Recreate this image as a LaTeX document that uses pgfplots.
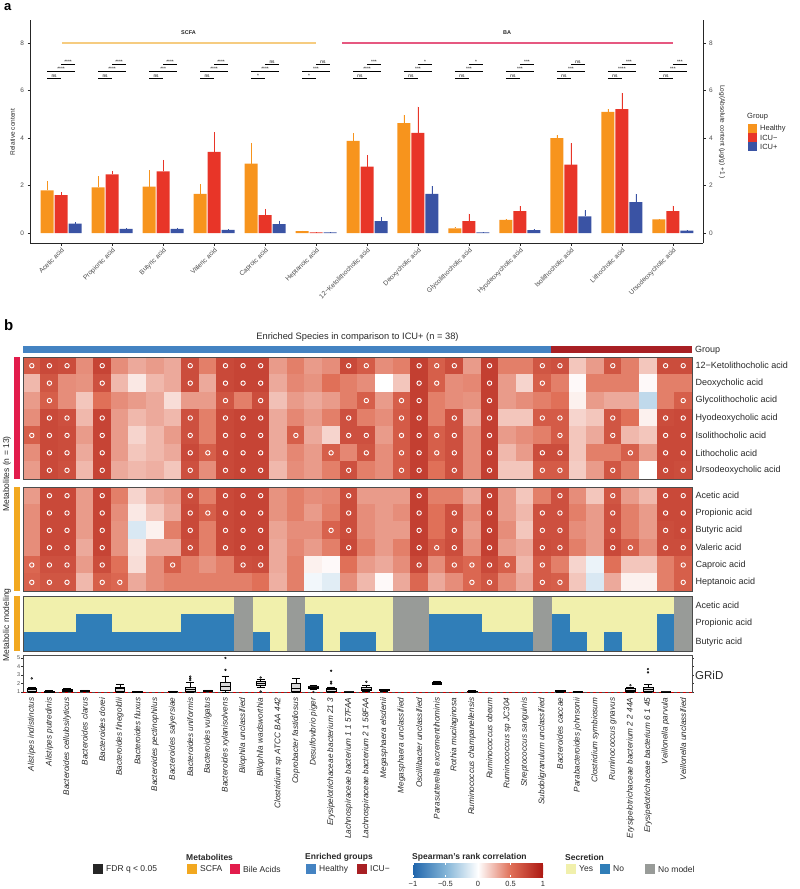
\documentclass[border=0pt]{standalone}
\usepackage{pgfplots}
\pgfplotsset{compat=1.18}
\usepackage{pgfplotstable}
\usepgfplotslibrary{statistics}
\usepackage{fontspec}
\setmainfont{Liberation Sans}

\definecolor{cHealthy}{RGB}{247,148,29}
\definecolor{cIcuN}{RGB}{232,53,40}
\definecolor{cIcuP}{RGB}{58,83,164}
\definecolor{cScfaLine}{RGB}{246,204,128}
\definecolor{cBaLine}{RGB}{230,88,128}
\definecolor{grpH}{RGB}{68,131,194}
\definecolor{grpI}{RGB}{168,32,36}
\definecolor{annScfa}{RGB}{242,168,32}
\definecolor{annBa}{RGB}{226,28,76}
\definecolor{secYes}{RGB}{241,240,172}
\definecolor{secNo}{RGB}{48,126,184}
\definecolor{secNA}{RGB}{152,155,152}
\definecolor{txt}{RGB}{40,40,40}
\definecolor{tk}{RGB}{77,77,77}

\newcommand{\fs}[1]{\fontsize{#1}{#1}\selectfont}

\pgfplotsset{colormap={spear}{rgb255=(33,102,172) rgb255=(130,180,215) rgb255=(255,255,255) rgb255=(224,112,88) rgb255=(172,24,18)}}
\pgfdeclarehorizontalshading{spearbar}{100bp}{rgb(0bp)=(0.129,0.4,0.675); rgb(25bp)=(0.129,0.4,0.675); rgb(37.5bp)=(0.51,0.706,0.843); rgb(50bp)=(1,1,1); rgb(62.5bp)=(0.878,0.439,0.345); rgb(75bp)=(0.675,0.094,0.071); rgb(100bp)=(0.675,0.094,0.071)}

% significance brackets of one metabolite: ns / mid / top labels
\newcommand{\sigbr}[4]{%
  \draw[line width=0.35pt] ([xshift=-14pt]axis cs:#1,6.53) -- node[above, font=\fs{4.8}, inner sep=0.6pt] {#2} (axis cs:#1,6.53);
  \draw[line width=0.35pt] ([xshift=-14pt]axis cs:#1,6.82) -- node[above, font=\fs{4.8}, inner sep=0.6pt] {#3} ([xshift=14pt]axis cs:#1,6.82);
  \draw[line width=0.35pt] (axis cs:#1,7.12) -- node[above, font=\fs{4.8}, inner sep=0.6pt] {#4} ([xshift=14pt]axis cs:#1,7.12);}

\newcommand{\gbox}[6]{\addplot[boxplot prepared={draw position=#1, lower whisker=#2, lower quartile=#3, median=#4, upper quartile=#5, upper whisker=#6, box extend=0.55, whisker extend=0.45}, draw=black, fill=gray!30, line width=0.45pt, mark=*, mark size=0.9pt, mark options={fill=gray!40, draw=black}]}

% bar heights and upper error of panel a
\pgfplotstableread{
x  h    herr n    nerr p    perr
0  1.80 0.40 1.60 0.12 0.40 0.07
1  1.92 0.48 2.47 0.15 0.17 0.03
2  1.95 0.70 2.60 0.48 0.17 0.05
3  1.65 0.40 3.42 0.83 0.13 0.03
4  2.92 0.88 0.75 0.27 0.37 0.15
5  0.08 0.02 0.03 0.01 0.03 0.01
6  3.88 0.32 2.80 0.48 0.50 0.18
7  4.63 0.34 4.22 1.10 1.65 0.33
8  0.20 0.05 0.50 0.32 0.03 0.01
9  0.55 0.05 0.92 0.21 0.12 0.03
10 4.00 0.12 2.88 0.90 0.70 0.25
11 5.10 0.12 5.22 0.68 1.30 0.35
12 0.57 0.03 0.92 0.23 0.10 0.03
}\acids

% Spearman correlations, species x metabolite
\pgfplotstableread{
x  k    de   gl   hy   is   li   ur   ac   pr   bu    va   ca    he
1  0.62 0.25 0.35 0.40 0.60 0.40 0.35 0.35 0.40 0.40  0.40 0.55  0.58
2  0.72 0.65 0.60 0.72 0.72 0.72 0.72 0.72 0.72 0.72  0.72 0.68  0.65
3  0.70 0.40 0.40 0.68 0.70 0.70 0.68 0.72 0.72 0.72  0.72 0.68  0.65
4  0.40 0.38 0.20 0.25 0.35 0.30 0.25 0.35 0.35 0.35  0.30 0.35  0.25
5  0.75 0.68 0.50 0.75 0.75 0.75 0.75 0.75 0.75 0.75  0.75 0.70  0.60
6  0.40 0.25 0.40 0.35 0.35 0.35 0.30 0.45 0.40 0.38  0.38 0.50  0.55
7  0.30 0.08 0.35 0.25 0.15 0.20 0.25 0.15 0.08 -0.15 0.10 0.12  0.30
8  0.35 0.25 0.30 0.30 0.25 0.25 0.28 0.30 0.20 0.05  0.30 0.40  0.40
9  0.30 0.30 0.12 0.25 0.35 0.30 0.20 0.35 0.30 0.45  0.30 0.60  0.45
10 0.70 0.70 0.35 0.68 0.68 0.72 0.68 0.70 0.72 0.72  0.70 0.45  0.45
11 0.45 0.30 0.35 0.45 0.45 0.60 0.40 0.45 0.60 0.45  0.45 0.38  0.45
12 0.72 0.72 0.65 0.72 0.72 0.72 0.72 0.72 0.72 0.72  0.72 0.45  0.45
13 0.75 0.75 0.45 0.75 0.75 0.75 0.75 0.75 0.75 0.75  0.75 0.68  0.45
14 0.75 0.75 0.70 0.75 0.75 0.75 0.75 0.75 0.75 0.75  0.75 0.70  0.50
15 0.35 0.30 0.22 0.30 0.30 0.30 0.25 0.38 0.38 0.32  0.30 0.30  0.28
16 0.45 0.42 0.35 0.42 0.60 0.42 0.40 0.45 0.45 0.40  0.42 0.45  0.45
17 0.35 0.38 0.30 0.35 0.30 0.35 0.35 0.40 0.35 0.40  0.35 0.05  -0.05
18 0.40 0.50 0.35 0.45 0.15 0.60 0.45 0.42 0.45 0.58  0.45 0.02  -0.12
19 0.72 0.45 0.45 0.68 0.68 0.42 0.68 0.70 0.70 0.70  0.72 0.50  0.40
20 0.62 0.40 0.60 0.45 0.68 0.65 0.45 0.35 0.40 0.40  0.45 0.35  0.25
21 0.40 0.00 0.35 0.40 0.35 0.40 0.40 0.35 0.35 0.35  0.35 0.30  0.02
22 0.45 0.20 0.60 0.62 0.62 0.62 0.62 0.35 0.40 0.35  0.45 0.40  0.30
23 0.78 0.78 0.78 0.78 0.78 0.78 0.78 0.78 0.78 0.78  0.78 0.72  0.55
24 0.60 0.60 0.45 0.45 0.60 0.60 0.50 0.45 0.50 0.50  0.62 0.40  0.30
25 0.70 0.40 0.40 0.68 0.68 0.68 0.68 0.45 0.68 0.68  0.70 0.62  0.40
26 0.35 0.42 0.38 0.30 0.40 0.40 0.40 0.30 0.40 0.35  0.40 0.55  0.55
27 0.78 0.78 0.78 0.78 0.78 0.78 0.78 0.78 0.78 0.78  0.78 0.72  0.65
28 0.45 0.35 0.35 0.20 0.35 0.25 0.20 0.35 0.35 0.40  0.35 0.60  0.42
29 0.45 0.15 0.40 0.20 0.40 0.35 0.20 0.20 0.25 0.20  0.30 0.25  0.30
30 0.65 0.60 0.45 0.62 0.45 0.70 0.62 0.45 0.68 0.68  0.70 0.62  0.62
31 0.68 0.45 0.50 0.62 0.62 0.70 0.62 0.68 0.68 0.68  0.68 0.45  0.60
32 0.20 0.02 0.05 0.15 0.20 0.20 0.18 0.40 0.45 0.40  0.45 0.15  0.20
33 0.35 0.45 0.35 0.20 0.30 0.45 0.35 0.20 0.35 0.35  0.35 -0.08 -0.15
34 0.65 0.45 0.30 0.65 0.65 0.45 0.65 0.65 0.68 0.68  0.72 0.50  0.30
35 0.45 0.45 0.30 0.50 0.25 0.60 0.45 0.35 0.45 0.45  0.60 0.20  0.05
36 0.20 0.02 -0.25 0.05 0.20 0.35 0.00 0.25 0.35 0.35 0.40 0.20  0.05
37 0.70 0.45 0.45 0.70 0.72 0.72 0.72 0.72 0.72 0.70  0.70 0.45  0.45
38 0.70 0.45 0.60 0.72 0.72 0.72 0.70 0.72 0.72 0.72  0.70 0.60  0.60
}\heat

\pgfplotsset{
  hmbase/.style={scale only axis, width=669pt, xmin=0.5, xmax=38.5, y dir=reverse,
    xtick=\empty, ytick pos=right, major tick length=0pt,
    yticklabel style={font=\fs{9}, text=txt},
    axis line style={draw=black!70, line width=0.7pt}, axis on top,
    clip marker paths=true, colormap name=spear, point meta min=-1, point meta max=1},
  cell/.style={scatter, only marks, mark=square*, mark size=8.8pt, point meta=explicit,
    scatter/use mapped color={draw=mapped color, fill=mapped color}},
  sig/.style={only marks, mark=o, mark size=2.2pt, mark options={draw=white, line width=0.9pt}},
  sec/.style={only marks, mark=square*, mark size=9.17pt, mark options={xscale=0.96, draw=#1, fill=#1}},
  abar/.style={ybar, bar width=13pt, bar shift=0pt, fill=#1, draw=none,
    error bars/.cd, y dir=plus, y explicit, error mark=none,
    error bar style={#1, line width=0.8pt}},
}

\begin{document}
\begin{tikzpicture}
\useasboundingbox (0pt,0pt) rectangle (800pt,-889pt);

% ---------------- panel a ----------------
\node[anchor=north west, font=\fs{13}\bfseries, inner sep=0pt] at (4pt,-3pt) {a};

\begin{axis}[
  at={(30pt,-243pt)}, anchor=south west, scale only axis,
  width=673pt, height=223pt,
  xmin=-0.61, xmax=12.59, ymin=-0.42, ymax=8.97,
  axis lines*=left, axis line style={line width=0.6pt, black!85},
  tick align=outside, major tick length=2.5pt, tick style={line width=0.5pt, black!85},
  xtick={0,...,12},
  xticklabels={Acetic acid, Propionic acid, Butyric acid, Valeric acid, Caproic acid, Heptanoic acid,
    12−Ketolithocholic acid, Deoxycholic acid, Glycolithocholic acid, Hyodeoxycholic acid,
    Isolithocholic acid, Lithocholic acid, Ursodeoxycholic acid},
  xticklabel style={rotate=45, anchor=north east, font=\fs{6.7}, text=tk, inner sep=1pt},
  ytick={0,2,4,6,8}, yticklabel style={font=\fs{6.5}, text=tk},
  /pgf/number format/assume math mode=true,
  clip=false,
]
\addplot[abar=cHealthy] table[x expr=\thisrow{x}-0.2746, y=h, y error=herr] {\acids};
\addplot[abar=cIcuN] table[x=x, y=n, y error=nerr] {\acids};
\addplot[abar=cIcuP] table[x expr=\thisrow{x}+0.2746, y=p, y error=perr] {\acids};

\draw[cScfaLine, line width=2pt] (axis cs:0.02,8) -- (axis cs:5,8);
\draw[cBaLine, line width=2pt] (axis cs:5.51,8) -- (axis cs:12,8);
\node[font=\fs{5.5}\bfseries, text=txt] at (axis cs:2.5,8.46) {SCFA};
\node[font=\fs{5.5}\bfseries, text=txt] at (axis cs:8.75,8.46) {BA};

\sigbr{0}{ns}{****}{****}
\sigbr{1}{ns}{****}{****}
\sigbr{2}{ns}{***}{****}
\sigbr{3}{ns}{****}{****}
\sigbr{4}{*}{****}{ns}
\sigbr{5}{*}{***}{ns}
\sigbr{6}{ns}{****}{***}
\sigbr{7}{ns}{***}{*}
\sigbr{8}{ns}{***}{*}
\sigbr{9}{ns}{***}{***}
\sigbr{10}{ns}{***}{ns}
\sigbr{11}{ns}{****}{***}
\sigbr{12}{ns}{***}{***}
\end{axis}

% secondary axis on the right
\begin{axis}[
  at={(30pt,-243pt)}, anchor=south west, scale only axis,
  width=673pt, height=223pt,
  xmin=-0.61, xmax=12.59, ymin=-0.42, ymax=8.97,
  axis x line=none, axis y line*=right, axis line style={line width=0.6pt, black!85},
  tick align=outside, major tick length=2.5pt, tick style={line width=0.5pt, black!85},
  ytick={0,2,4,6,8}, yticklabel style={font=\fs{6.5}, text=tk},
  /pgf/number format/assume math mode=true,
]
\addplot[draw=none] coordinates {(0,0)};
\end{axis}

\node[rotate=90, font=\fs{6.5}, text=txt] at (12.5pt,-132pt) {Relative content};
\node[rotate=-90, font=\fs{6.5}, text=txt] at (722pt,-132pt) {Log(Absolute content (µg/g) +1 )};

\node[anchor=west, font=\fs{7.5}, text=txt, inner sep=0pt] at (747pt,-117pt) {Group};
\fill[cHealthy] (748pt,-124pt) rectangle (757pt,-133pt);
\fill[cIcuN] (748pt,-133pt) rectangle (757pt,-142pt);
\fill[cIcuP] (748pt,-142pt) rectangle (757pt,-151pt);
\node[anchor=west, font=\fs{7.5}, text=txt, inner sep=0pt] at (760pt,-128.5pt) {Healthy};
\node[anchor=west, font=\fs{7.5}, text=txt, inner sep=0pt] at (760pt,-137.5pt) {ICU−};
\node[anchor=west, font=\fs{7.5}, text=txt, inner sep=0pt] at (760pt,-146.5pt) {ICU+};

% ---------------- panel b ----------------
\node[anchor=north west, font=\fs{15}\bfseries, inner sep=0pt] at (4pt,-319pt) {b};
\node[font=\fs{9.3}, text=txt] at (357.5pt,-337pt) {Enriched Species in comparison to ICU+ (n = 38)};

% group annotation
\begin{axis}[at={(23pt,-353pt)}, anchor=south west, scale only axis, width=669pt, height=7pt,
  xmin=0.5, xmax=38.5, ymin=0, ymax=1, hide axis]
\addplot[ybar interval, fill=grpH, draw=none] coordinates {(0.5,1) (30.5,1)};
\addplot[ybar interval, fill=grpI, draw=none] coordinates {(30.5,1) (38.5,1)};
\end{axis}
\node[anchor=west, font=\fs{9}, text=txt, inner sep=0pt] at (695pt,-350pt) {Group};

% bile acids block
\begin{axis}[hmbase, at={(23pt,-357pt)}, anchor=north west, height=122pt, ymin=0.5, ymax=7.5,
  ytick={1,...,7},
  yticklabels={12−Ketolithocholic acid, Deoxycholic acid, Glycolithocholic acid, Hyodeoxycholic acid,
    Isolithocholic acid, Lithocholic acid, Ursodeoxycholic acid}]
\addplot[cell] table[x=x, y expr=1, meta=k] {\heat};
\addplot[cell] table[x=x, y expr=2, meta=de] {\heat};
\addplot[cell] table[x=x, y expr=3, meta=gl] {\heat};
\addplot[cell] table[x=x, y expr=4, meta=hy] {\heat};
\addplot[cell] table[x=x, y expr=5, meta=is] {\heat};
\addplot[cell] table[x=x, y expr=6, meta=li] {\heat};
\addplot[cell] table[x=x, y expr=7, meta=ur] {\heat};
\addplot[sig] coordinates {(1,1) (2,1) (3,1) (5,1) (10,1) (12,1) (13,1) (14,1) (19,1) (20,1) (23,1) (24,1) (25,1) (27,1) (30,1) (31,1) (34,1) (37,1) (38,1)};
\addplot[sig] coordinates {(2,2) (5,2) (10,2) (12,2) (13,2) (14,2) (23,2) (24,2) (27,2) (30,2)};
\addplot[sig] coordinates {(2,3) (12,3) (14,3) (20,3) (22,3) (23,3) (27,3) (38,3)};
\addplot[sig] coordinates {(2,4) (3,4) (5,4) (10,4) (12,4) (13,4) (14,4) (19,4) (22,4) (23,4) (25,4) (27,4) (30,4) (31,4) (34,4) (37,4) (38,4)};
\addplot[sig] coordinates {(1,5) (2,5) (3,5) (5,5) (10,5) (12,5) (13,5) (14,5) (16,5) (19,5) (20,5) (22,5) (23,5) (24,5) (25,5) (27,5) (31,5) (34,5) (37,5) (38,5)};
\addplot[sig] coordinates {(2,6) (3,6) (5,6) (10,6) (11,6) (12,6) (13,6) (14,6) (18,6) (20,6) (22,6) (23,6) (24,6) (25,6) (27,6) (30,6) (31,6) (35,6) (37,6) (38,6)};
\addplot[sig] coordinates {(2,7) (3,7) (5,7) (10,7) (12,7) (13,7) (14,7) (19,7) (22,7) (23,7) (25,7) (27,7) (30,7) (31,7) (34,7) (37,7) (38,7)};
\end{axis}

% SCFA block
\begin{axis}[hmbase, at={(23pt,-487pt)}, anchor=north west, height=104pt, ymin=0.5, ymax=6.5,
  ytick={1,...,6},
  yticklabels={Acetic acid, Propionic acid, Butyric acid, Valeric acid, Caproic acid, Heptanoic acid}]
\addplot[cell] table[x=x, y expr=1, meta=ac] {\heat};
\addplot[cell] table[x=x, y expr=2, meta=pr] {\heat};
\addplot[cell] table[x=x, y expr=3, meta=bu] {\heat};
\addplot[cell] table[x=x, y expr=4, meta=va] {\heat};
\addplot[cell] table[x=x, y expr=5, meta=ca] {\heat};
\addplot[cell] table[x=x, y expr=6, meta=he] {\heat};
\addplot[sig] coordinates {(2,1) (3,1) (5,1) (10,1) (12,1) (13,1) (14,1) (19,1) (23,1) (27,1) (31,1) (34,1) (37,1) (38,1)};
\addplot[sig] coordinates {(2,2) (3,2) (5,2) (10,2) (11,2) (12,2) (13,2) (14,2) (19,2) (23,2) (25,2) (27,2) (30,2) (31,2) (34,2) (37,2) (38,2)};
\addplot[sig] coordinates {(2,3) (3,3) (5,3) (10,3) (12,3) (13,3) (14,3) (18,3) (19,3) (23,3) (25,3) (27,3) (30,3) (31,3) (34,3) (37,3) (38,3)};
\addplot[sig] coordinates {(2,4) (3,4) (5,4) (10,4) (12,4) (13,4) (14,4) (19,4) (23,4) (24,4) (25,4) (27,4) (30,4) (31,4) (34,4) (35,4) (37,4) (38,4)};
\addplot[sig] coordinates {(1,5) (2,5) (3,5) (5,5) (9,5) (13,5) (14,5) (23,5) (25,5) (26,5) (27,5) (28,5) (30,5) (38,5)};
\addplot[sig] coordinates {(1,6) (2,6) (3,6) (5,6) (6,6) (26,6) (27,6) (30,6) (31,6) (38,6)};
\end{axis}

% metabolic modeling (secretion) block
\begin{axis}[hmbase, at={(23pt,-596pt)}, anchor=north west, height=55pt, ymin=0.5, ymax=3.5,
  ytick={1,2,3}, yticklabels={Acetic acid, Propionic acid, Butyric acid}]
% Yes
\addplot[sec=secYes] coordinates {(1,1) (2,1) (3,1) (4,1) (5,1) (6,1) (7,1) (8,1) (9,1) (10,1) (11,1) (12,1) (14,1) (15,1) (17,1) (18,1) (19,1) (20,1) (21,1) (24,1) (25,1) (26,1) (27,1) (28,1) (29,1) (31,1) (32,1) (33,1) (34,1) (35,1) (36,1) (37,1)};
\addplot[sec=secYes] coordinates {(1,2) (2,2) (3,2) (6,2) (7,2) (8,2) (9,2) (14,2) (15,2) (18,2) (19,2) (20,2) (21,2) (27,2) (28,2) (29,2) (32,2) (33,2) (34,2) (35,2) (36,2)};
\addplot[sec=secYes] coordinates {(15,3) (18,3) (21,3) (33,3) (35,3) (36,3)};
% No
\addplot[sec=secNo] coordinates {(4,2) (5,2) (10,2) (11,2) (12,2) (17,2) (24,2) (25,2) (26,2) (31,2) (37,2)};
\addplot[sec=secNo] coordinates {(1,3) (2,3) (3,3) (4,3) (5,3) (6,3) (7,3) (8,3) (9,3) (10,3) (11,3) (12,3) (14,3) (17,3) (19,3) (20,3) (24,3) (25,3) (26,3) (27,3) (28,3) (29,3) (31,3) (32,3) (34,3) (37,3)};
% No model
\addplot[sec=secNA] coordinates {(13,1) (16,1) (22,1) (23,1) (30,1) (38,1) (13,2) (16,2) (22,2) (23,2) (30,2) (38,2) (13,3) (16,3) (22,3) (23,3) (30,3) (38,3)};
\end{axis}

% left annotation bars
\fill[annBa] (14pt,-357pt) rectangle (20pt,-479pt);
\fill[annScfa] (14pt,-487pt) rectangle (20pt,-591pt);
\fill[annScfa] (14pt,-596pt) rectangle (20pt,-651pt);
\node[rotate=90, font=\fs{8.5}, text=txt] at (7pt,-474pt) {Metabolites (n = 13)};
\node[rotate=90, font=\fs{8.5}, text=txt] at (7pt,-625pt) {Metabolic modeling};

% GRiD boxplots
\begin{axis}[at={(23pt,-692.8pt)}, anchor=south west, scale only axis, width=669pt, height=37.8pt,
  xmin=0.5, xmax=38.5, ymin=0.9, ymax=5.35,
  boxplot/draw direction=y,
  axis line style={draw=black!70, line width=0.7pt},
  xtick={1,...,38},
  xticklabels={Alistipes indistinctus, Alistipes putredinis, Bacteroides cellulosilyticus, Bacteroides clarus,
    Bacteroides dorei, Bacteroides finegoldii, Bacteroides fluxus, Bacteroides pectinophilus,
    Bacteroides salyersiae, Bacteroides uniformis, Bacteroides vulgatus, Bacteroides xylanisolvens,
    Bilophila unclassified, Bilophila wadsworthia, Clostridium sp ATCC BAA 442, Coprobacter fastidiosus,
    Desulfovibrio piger, Erysipelotrichaceae bacterium 21 3, Lachnospiraceae bacterium 1 1 57FAA,
    Lachnospiraceae bacterium 2 1 58FAA, Megasphaera elsdenii, Megasphaera unclassified,
    Oscillibacter unclassified, Parasutterella excrementihominis, Rothia mucilaginosa,
    Ruminococcus champanellensis, Ruminococcus obeum, Ruminococcus sp JC304, Streptococcus sanguinis,
    Subdoligranulum unclassified, Bacteroides caccae, Parabacteroides johnsonii, Clostridium symbiosum,
    Ruminococcus gnavus, Erysipelotrichaceae bacterium 2 2 44A, Erysipelotrichaceae bacterium 6 1 45,
    Veillonella parvula, Veillonella unclassified},
  xticklabel style={rotate=90, anchor=east, font=\fs{8.2}\itshape, text=txt},
  major x tick style={draw=none},
  ytick={1,2,3,4,5}, yticklabel style={font=\fs{5.5}, text=tk, inner sep=1pt},
  tick align=outside, major tick length=1.5pt, tick style={black!80, line width=0.4pt},
  /pgf/number format/assume math mode=true,
]
\addplot[red!80!black, dashed, line width=0.5pt] coordinates {(0.5,1) (38.5,1)};
\gbox{1}{1.00}{1.05}{1.30}{1.45}{1.55} table[row sep=\\, y index=0] {o\\ 2.6\\};
\gbox{2}{0.98}{1.00}{1.05}{1.12}{1.20} coordinates {};
\gbox{3}{1.05}{1.10}{1.20}{1.30}{1.40} coordinates {};
\gbox{4}{1.05}{1.10}{1.15}{1.20}{1.25} coordinates {};
\gbox{6}{1.00}{1.10}{1.40}{1.60}{1.95} coordinates {};
\gbox{7}{1.00}{1.02}{1.05}{1.08}{1.10} coordinates {};
\gbox{9}{1.02}{1.04}{1.06}{1.10}{1.12} coordinates {};
\gbox{10}{1.00}{1.10}{1.30}{1.60}{2.10} table[row sep=\\, y index=0] {o\\ 2.4\\ 2.6\\ 2.8\\};
\gbox{11}{1.10}{1.12}{1.18}{1.22}{1.25} coordinates {};
\gbox{12}{1.00}{1.25}{1.70}{2.15}{2.90} table[row sep=\\, y index=0] {o\\ 3.6\\ 5.0\\};
\gbox{14}{1.60}{1.85}{2.05}{2.30}{2.55} table[row sep=\\, y index=0] {o\\ 1.05\\ 2.7\\};
\gbox{16}{1.00}{1.05}{1.40}{2.00}{2.60} coordinates {};
\gbox{17}{1.35}{1.45}{1.60}{1.70}{1.75} table[row sep=\\, y index=0] {o\\ 1.0\\};
\gbox{18}{1.00}{1.10}{1.30}{1.45}{1.60} table[row sep=\\, y index=0] {o\\ 2.0\\ 2.2\\ 3.5\\};
\gbox{19}{1.00}{1.00}{1.02}{1.04}{1.05} coordinates {};
\gbox{20}{1.05}{1.20}{1.35}{1.50}{1.85} table[row sep=\\, y index=0] {o\\ 2.2\\};
\gbox{21}{1.10}{1.15}{1.20}{1.28}{1.30} coordinates {};
\gbox{24}{1.90}{1.95}{2.05}{2.20}{2.30} coordinates {};
\gbox{26}{1.02}{1.05}{1.08}{1.10}{1.15} coordinates {};
\gbox{31}{1.00}{1.05}{1.10}{1.15}{1.20} coordinates {};
\gbox{32}{1.00}{1.00}{1.03}{1.06}{1.10} coordinates {};
\gbox{35}{1.00}{1.05}{1.20}{1.40}{1.60} table[row sep=\\, y index=0] {o\\ 1.8\\};
\gbox{36}{1.00}{1.10}{1.30}{1.50}{1.90} table[row sep=\\, y index=0] {o\\ 3.3\\ 3.7\\};
\gbox{37}{1.00}{1.00}{1.02}{1.04}{1.06} coordinates {};
\end{axis}
\node[anchor=west, font=\fs{11.5}, text=txt, inner sep=0pt] at (695pt,-675pt) {GRiD};

% ---------------- bottom legend ----------------
\fill[black!85] (93pt,-864pt) rectangle (103pt,-874pt);
\node[anchor=west, font=\fs{8.5}, text=txt, inner sep=0pt] at (106pt,-869pt) {FDR q < 0.05};

\node[anchor=west, font=\fs{8.5}\bfseries, text=txt, inner sep=0pt] at (186pt,-857pt) {Metabolites};
\fill[annScfa] (187pt,-864pt) rectangle (197pt,-874pt);
\node[anchor=west, font=\fs{8.5}, text=txt, inner sep=0pt] at (200pt,-869pt) {SCFA};
\fill[annBa] (230pt,-864pt) rectangle (240pt,-874pt);
\node[anchor=west, font=\fs{8.5}, text=txt, inner sep=0pt] at (243pt,-869pt) {Bile Acids};

\node[anchor=west, font=\fs{8.5}\bfseries, text=txt, inner sep=0pt] at (305pt,-857pt) {Enriched groups};
\fill[grpH] (306pt,-864pt) rectangle (316pt,-874pt);
\node[anchor=west, font=\fs{8.5}, text=txt, inner sep=0pt] at (319pt,-869pt) {Healthy};
\fill[grpI] (357pt,-864pt) rectangle (367pt,-874pt);
\node[anchor=west, font=\fs{8.5}, text=txt, inner sep=0pt] at (370pt,-869pt) {ICU−};

\node[anchor=west, font=\fs{8.5}\bfseries, text=txt, inner sep=0pt] at (412pt,-857pt) {Spearman's rank correlation};
\shade[shading=spearbar] (413pt,-863pt) rectangle (543pt,-877pt);
\foreach \p/\l in {413/−1, 445.5/−0.5, 478/0, 510.5/0.5, 543/1} {
  \draw[white, line width=0.5pt] (\p pt,-863pt) -- (\p pt,-865pt) (\p pt,-875pt) -- (\p pt,-877pt);
  \node[font=\fs{7.5}, text=txt, inner sep=0pt] at (\p pt,-883.5pt) {\l};
}

\node[anchor=west, font=\fs{8.5}\bfseries, text=txt, inner sep=0pt] at (565pt,-857pt) {Secretion};
\fill[secYes] (566pt,-864pt) rectangle (576pt,-874pt);
\node[anchor=west, font=\fs{8.5}, text=txt, inner sep=0pt] at (579pt,-869pt) {Yes};
\fill[secNo] (600pt,-864pt) rectangle (610pt,-874pt);
\node[anchor=west, font=\fs{8.5}, text=txt, inner sep=0pt] at (613pt,-869pt) {No};
\fill[secNA] (645pt,-864pt) rectangle (655pt,-874pt);
\node[anchor=west, font=\fs{8.5}, text=txt, inner sep=0pt] at (658pt,-869pt) {No model};
\end{tikzpicture}
\end{document}
